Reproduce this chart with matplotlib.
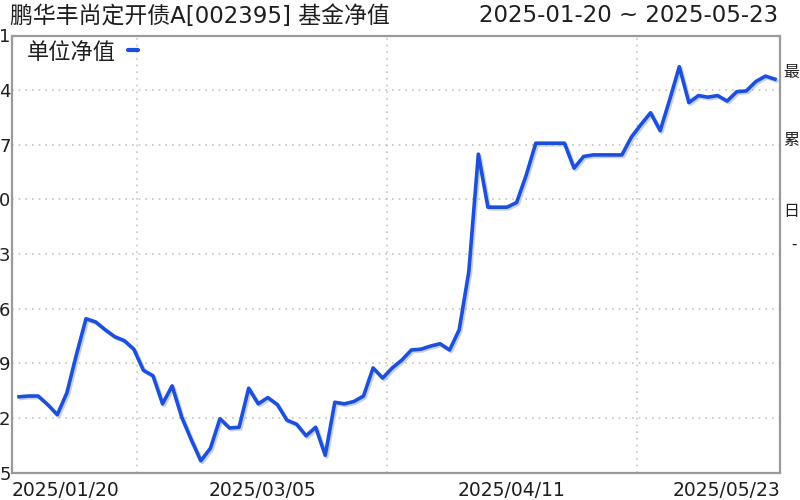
import matplotlib

matplotlib.use("Agg")
import matplotlib.pyplot as plt
import matplotlib.patheffects as pe
from matplotlib.lines import Line2D
import numpy as np

plt.rcParams["font.family"] = ["DejaVu Sans", "Noto Sans CJK SC"]

# Unit NAV, one value per trading day 2025-01-20 .. 2025-05-23 (80 days)
nav = [
    1.05147, 1.05148, 1.05148, 1.05137, 1.05124, 1.05152, 1.05201, 1.05247, 1.05243, 1.05233,
    1.05224, 1.05219, 1.05208, 1.05181, 1.05174, 1.05138, 1.05161, 1.05121, 1.05092, 1.05065,
    1.05081, 1.05119, 1.05107, 1.05108, 1.05158, 1.05138, 1.05146, 1.05137, 1.05117, 1.05112,
    1.05097, 1.05108, 1.05072, 1.05140, 1.05138, 1.05141, 1.05148, 1.05184, 1.05171, 1.05184,
    1.05194, 1.05207, 1.05208, 1.05212, 1.05215, 1.05207, 1.05233, 1.05307, 1.05458, 1.05390,
    1.05390, 1.05390, 1.05396, 1.05431, 1.05472, 1.05472, 1.05472, 1.05472, 1.05440, 1.05455,
    1.05457, 1.05457, 1.05457, 1.05457, 1.05480, 1.05496, 1.05511, 1.05488, 1.05528, 1.05570,
    1.05524, 1.05533, 1.05531, 1.05533, 1.05526, 1.05538, 1.05539, 1.05551, 1.05558, 1.05554,
]

y_ticks = [1.0505, 1.0512, 1.0519, 1.0526, 1.0533, 1.0540, 1.0547, 1.0554, 1.0561]
# only the last digit of each label survives the crop of the original screenshot
y_tick_labels = ["5", "2", "9", "6", "3", "0", "7", "4", "1"]
x_tick_labels = ["2025/01/20", "2025/03/05", "2025/04/11", "2025/05/23"]

title = "鹏华丰尚定开债A[002395] 基金净值"
date_range = "2025-01-20 ~ 2025-05-23"
series_name = "单位净值"
side_labels = ["最", "累", "日"]

LINE = "#1c4fdc"
GRID = "#c4c4c4"
BORDER = "#9a9a9a"
TEXT = "#1e1e1e"

W, H = 800, 500
fig = plt.figure(figsize=(8, 5), dpi=100)
ax = fig.add_axes([12 / W, 1 - 472.5 / H, 768 / W, 437 / H])

x = np.arange(len(nav))
step = 756 / (len(nav) - 1)
x0, x1 = -7 / step, (len(nav) - 1) + 5 / step
ax.set_xlim(x0, x1)
ax.set_ylim(y_ticks[0], y_ticks[-1])

ax.plot(
    x, nav, color=LINE, linewidth=2.6, solid_joinstyle="round", zorder=3,
    path_effects=[pe.SimpleLineShadow(offset=(1.2, -1.2), shadow_color="#7f9be6", alpha=0.45), pe.Normal()],
)

# grid: dotted, vertical lines every 125 px of the plot box
ax.set_yticks(y_ticks, y_tick_labels)
grid_x = [x0 + (x1 - x0) * 125 * k / 768 for k in range(1, 6)]
ax.set_xticks(grid_x, minor=True)
ax.grid(True, which="minor", axis="x", color=GRID, linestyle=(0, (1, 3)), linewidth=1.2)
ax.grid(True, which="major", axis="y", color=GRID, linestyle=(0, (1, 3)), linewidth=1.2)

lab_x = [x0, grid_x[1], grid_x[3], x1]
ax.set_xticks(lab_x, x_tick_labels)
for lab, ha in zip(ax.get_xticklabels(), ["left", "center", "center", "right"]):
    lab.set_horizontalalignment(ha)
ax.tick_params(axis="x", which="both", length=0, pad=6, labelsize=13.5, labelcolor=TEXT)
ax.tick_params(axis="y", length=0, pad=1, labelsize=13, labelcolor=TEXT)

for s in ax.spines.values():
    s.set_color(BORDER)
    s.set_linewidth(1.6)

fig.text(10 / W, 1 - 16 / H, title, ha="left", va="center", fontsize=16.5, color=TEXT)
fig.text(778 / W, 1 - 16 / H, date_range, ha="right", va="center", fontsize=16.5, color=TEXT)
fig.text(27 / W, 1 - 53 / H, series_name, ha="left", va="center", fontsize=16, color=TEXT)
fig.add_artist(Line2D([128 / W, 138 / W], [1 - 49.5 / H] * 2, color=LINE, linewidth=3,
                      solid_capstyle="round", transform=fig.transFigure))

# labels of the side panel, squeezed into the strip right of the plot box
for lab, py in zip(side_labels, [72, 140, 212]):
    fig.text(783 / W, 1 - py / H, lab, ha="left", va="center", fontsize=11.5, color=TEXT)
fig.text(791 / W, 1 - 244 / H, "-", ha="left", va="center", fontsize=11, color=TEXT)

fig.savefig("out.png", dpi=100)
